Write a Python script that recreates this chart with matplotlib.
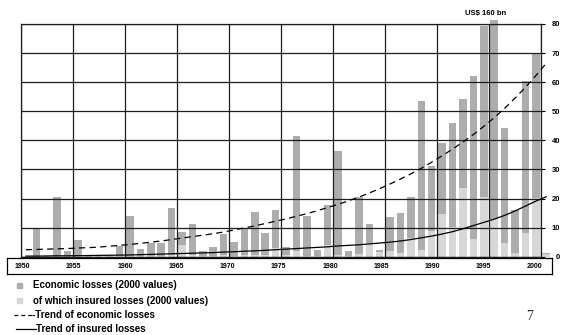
import numpy as np
import matplotlib.pyplot as plt
from matplotlib.lines import Line2D
from matplotlib.patches import Rectangle

plt.rcParams['font.family'] = ['Liberation Sans', 'DejaVu Sans']

# Great natural catastrophes 1950-2000, US$ bn (2000 values)
years = list(range(1950, 2001))
economic = [0.4, 9.5, 0.3, 20.4, 1.9, 5.7, 0.3, 0.3, 0.5, 3.8,
            14.0, 2.5, 4.8, 4.8, 16.8, 8.4, 11.2, 2.0, 3.3, 7.7,
            5.1, 10.0, 15.2, 8.0, 15.9, 3.4, 41.6, 13.9, 2.4, 17.8,
            36.3, 1.9, 20.5, 11.2, 2.3, 13.5, 14.9, 20.6, 53.5, 31.3,
            39.2, 46.1, 54.2, 62.1, 79.3, 160.0, 44.1, 16.1, 60.4, 70.1,
            1.2]
insured = [0.2, 0.2, 0.1, 0.3, 0.2, 0.2, 0.1, 0.1, 0.2, 0.3,
           0.3, 0.2, 0.3, 0.3, 0.5, 4.0, 0.5, 0.3, 0.4, 0.5,
           0.4, 0.5, 0.6, 0.5, 3.0, 0.5, 2.0, 0.3, 0.4, 4.0,
           0.6, 0.4, 0.9, 4.8, 1.5, 2.1, 1.2, 6.3, 2.3, 8.9,
           14.6, 10.3, 23.5, 6.1, 20.5, 13.0, 4.6, 1.2, 8.0, 20.3,
           1.0]
trend_economic = [2.4, 2.5, 2.6, 2.7, 2.8, 3.0, 3.1, 3.3, 3.6, 3.9,
                  4.2, 4.6, 5.0, 5.4, 5.9, 6.4, 6.9, 7.4, 7.9, 8.5,
                  9.2, 9.9, 10.6, 11.4, 12.2, 13.0, 13.9, 14.8, 15.8, 16.9,
                  18.0, 19.2, 20.5, 21.9, 23.4, 25.0, 26.7, 28.5, 30.4, 32.5,
                  34.7, 37.0, 39.4, 42.0, 44.8, 47.8, 51.0, 54.5, 58.2, 62.2,
                  66.5]
trend_insured = [0.2, 0.2, 0.25, 0.3, 0.3, 0.35, 0.4, 0.45, 0.5, 0.55,
                 0.6, 0.7, 0.8, 0.9, 1.0, 1.1, 1.2, 1.3, 1.4, 1.6,
                 1.7, 1.9, 2.0, 2.2, 2.4, 2.6, 2.8, 3.0, 3.2, 3.4,
                 3.7, 3.9, 4.1, 4.4, 4.7, 5.0, 5.4, 5.9, 6.5, 7.1,
                 7.8, 8.6, 9.6, 10.7, 11.8, 12.9, 14.2, 15.7, 17.4, 19.1,
                 20.6]
label_years = list(range(1950, 2001, 5))
y_ticks = list(range(0, 81, 10))

dark = '#adadad'
light = '#d7d7d7'
W, H = 564, 335

fig = plt.figure(figsize=(5.64, 3.35), dpi=100)

# main chart, x in year units; right border sits at 1999.5
ax = fig.add_axes([20.7 / W, (H - 256.7) / H, (541 - 20.7) / W, (256.7 - 24) / H])
x = np.array(years)
ax.bar(x, np.minimum(economic, 81.5), width=0.72, color=dark, clip_on=False, zorder=1)
ax.bar(x, insured, width=0.72, color=light, clip_on=False, zorder=1.2)
ax.plot(x, trend_economic, color='black', lw=0.9, ls=(0, (5, 3.5)), clip_on=False, zorder=3)
ax.plot(x, trend_insured, color='black', lw=0.9, clip_on=False, zorder=3)

ax.set_xlim(1949.5, 1999.5)
ax.set_ylim(0, 80)
ax.set_xticks(np.arange(1949.5, 2000, 5))
ax.set_yticks(y_ticks)
ax.set_axisbelow(False)
ax.grid(True, color='#1e1e1e', lw=0.9)
ax.tick_params(axis='x', length=0, labelbottom=False)
ax.yaxis.tick_right()
ax.tick_params(axis='y', direction='out', length=3, width=0.8, pad=11, labelsize=5.5)
for lab in ax.get_yticklabels():
    lab.set_fontweight('bold')
    lab.set_horizontalalignment('right')
for s in ax.spines.values():
    s.set_color('#1e1e1e')
    s.set_linewidth(0.9)

fig.text(485.8 / W, 1 - 14 / H, 'US$ 160 bn', fontsize=5.5, fontweight='bold',
         ha='center', va='center')

# year label box
bx = fig.add_axes([7 / W, (H - 274) / H, (552 - 7) / W, 16 / H])
bx.set_xlim(1948.49, 2001.66)
bx.set_ylim(0, 1)
bx.set_xticks([])
bx.set_yticks([])
for s in bx.spines.values():
    s.set_linewidth(0.9)
for yr in label_years:
    bx.text(yr, 0.5, str(yr), fontsize=5, fontweight='bold', ha='center', va='center')

# legend
fig.add_artist(Rectangle((17 / W, 1 - 288 / H), 5 / W, 5 / H, color=dark))
fig.add_artist(Rectangle((17 / W, 1 - 303 / H), 5 / W, 5 / H, color=light))
fig.text(33 / W, 1 - 285.5 / H, 'Economic losses (2000 values)', fontsize=7,
         fontweight='bold', va='center')
fig.text(33 / W, 1 - 300.5 / H, 'of which insured losses (2000 values)', fontsize=7,
         fontweight='bold', va='center')
fig.add_artist(Line2D([14 / W, 32 / W], [1 - 314.5 / H] * 2, color='black', lw=0.9,
                      ls=(0, (3, 2.5))))
fig.text(32 / W, 1 - 314.5 / H, '-Trend of economic losses', fontsize=7,
         fontweight='bold', va='center')
fig.add_artist(Line2D([16 / W, 36 / W], [1 - 329 / H] * 2, color='black', lw=0.9))
fig.text(36 / W, 1 - 329 / H, 'Trend of insured losses', fontsize=7,
         fontweight='bold', va='center')

fig.text(530 / W, 1 - 317 / H, '7', fontsize=10, family='Liberation Serif',
         color='#333333', ha='center', va='center')

fig.savefig('out.png', dpi=100)
